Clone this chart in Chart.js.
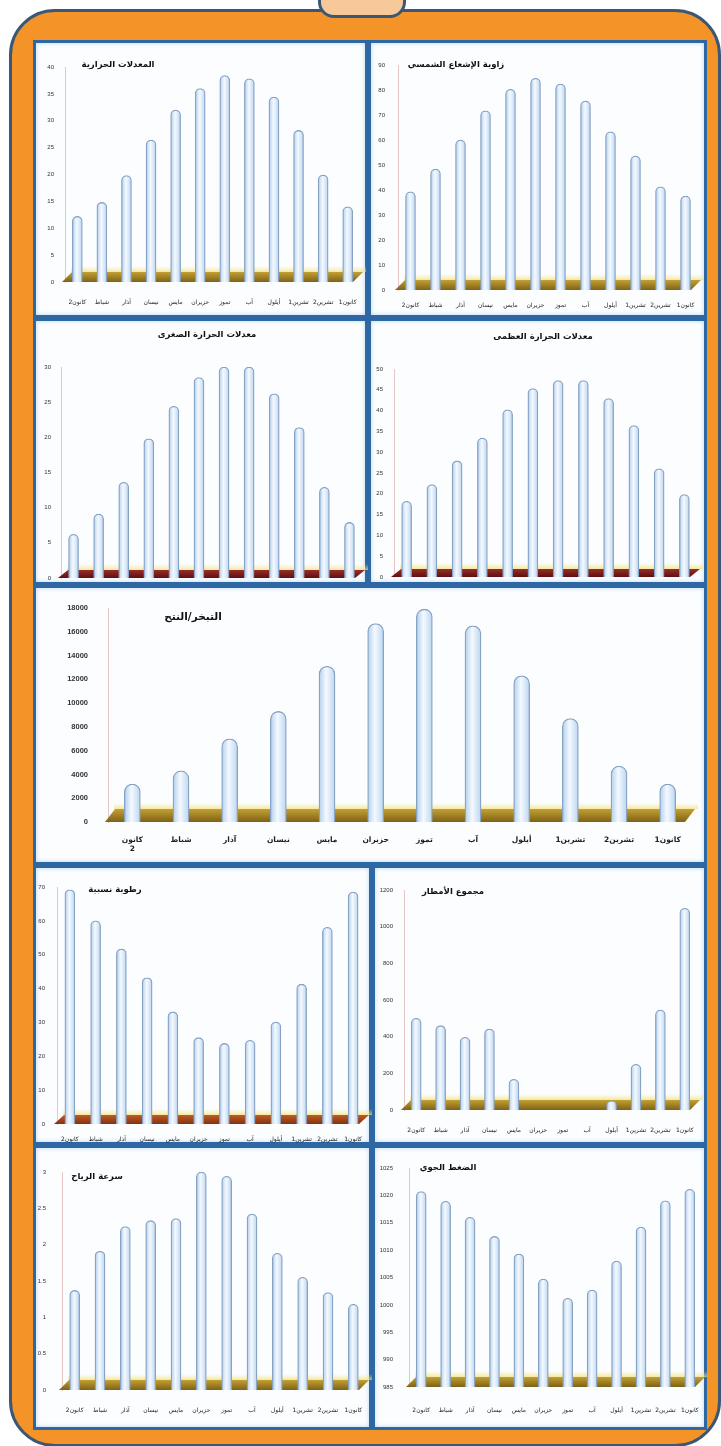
<!DOCTYPE html>
<html>
<head>
<meta charset="utf-8">
<script src="https://cdn.jsdelivr.net/npm/chart.js@4.4.1/dist/chart.umd.min.js"></script>
<style>
  body { margin:0; background:#ffffff; width:721px; height:1446px; position:relative; overflow:hidden; }
  #frame { position:absolute; left:9px; top:9px; width:706px; height:1432px; border-radius:46px;
           background:#f39328; border:3px solid #3a5776; }
  #tab { position:absolute; left:318px; top:-8px; width:82px; height:20px; border-radius:0 0 16px 16px;
         background:#f7c89a; border:3px solid #3a5776; }
  .panel { position:absolute; box-sizing:border-box; background:#fbfdff; border:3px solid #2d67a4;
           box-shadow: inset 0 0 4px #b9d3ec; }
  canvas { position:absolute; }
</style>
</head>
<body>
<div id="frame"></div>
<div id="tab"></div>
<script>
// ---------- البيانات ----------
var months = ["كانون2","شباط","آذار","نيسان","مايس","حزيران","تموز","آب","أيلول","تشرين1","تشرين2","كانون1"];
var monthsBig = [["كانون","2"],"شباط","آذار","نيسان","مايس","حزيران","تموز","آب","أيلول","تشرين1","تشرين2","كانون1"];

var tempAvg    = [12.2, 14.8, 19.8, 26.4, 32, 36, 38.4, 37.8, 34.4, 28.2, 19.9, 14];
var solarAngle = [39.3, 48.4, 60, 71.7, 80.3, 84.7, 82.4, 75.6, 63.3, 53.6, 41.3, 37.6];
var tempMin    = [6.2, 9.1, 13.6, 19.8, 24.4, 28.5, 30, 30, 26.2, 21.4, 12.9, 7.9];
var tempMax    = [18.2, 22.2, 27.9, 33.4, 40.2, 45.3, 47.2, 47.2, 42.9, 36.4, 26, 19.8];
var evap       = [3200, 4300, 7000, 9300, 13100, 16700, 17900, 16500, 12300, 8700, 4700, 3200];
var humidity   = [69.2, 60, 51.7, 43.2, 33.1, 25.5, 23.8, 24.7, 30.1, 41.3, 58.1, 68.5];
var rain       = [500, 460, 396, 442, 167, 0, 0, 0, 50, 249, 545, 1100];
var wind       = [1.37, 1.91, 2.25, 2.33, 2.36, 3.0, 2.94, 2.42, 1.88, 1.55, 1.34, 1.18];
var pressure   = [1020.7, 1018.9, 1016, 1012.5, 1009.3, 1004.7, 1001.2, 1002.7, 1008, 1014.2, 1019, 1021.1];

// [min, max, step] للمحاور
var avgTicks = [0, 40, 5];
var solarTicks = [0, 90, 10];
var minTicks = [0, 30, 5];
var maxTicks = [0, 50, 5];
var evapTicks = [0, 18000, 2000];
var humTicks = [0, 70, 10];
var rainTicks = [0, 1200, 200];
var windTicks = [0, 3, 0.5];
var presTicks = [985, 1025, 5];

// الوان الارضية
var gold = ["#c3a034", "#7f6216"];
var maroon = ["#9a2c28", "#5e1010"];
var rust = ["#c05a26", "#83320f"];

// ---------- plugins ----------
var floorPlugin = {
  id: 'floor',
  beforeDatasetsDraw: function(chart, args, o) {
    var ctx = chart.ctx, a = chart.chartArea, d = o.depth || 10, y = a.bottom;
    ctx.save();
    // الهالة الصفراء فوق الارضية
    var h = ctx.createLinearGradient(0, y - d - 6, 0, y - d);
    h.addColorStop(0, 'rgba(245,232,140,0)');
    h.addColorStop(1, 'rgba(240,222,110,0.7)');
    ctx.fillStyle = h;
    ctx.fillRect(a.left + 6, y - d - 6, a.right - a.left, 6);
    var g = ctx.createLinearGradient(0, y - d, 0, y);
    g.addColorStop(0, o.colors[0]);
    g.addColorStop(1, o.colors[1]);
    ctx.beginPath();
    ctx.moveTo(a.left - 3, y);
    ctx.lineTo(a.right - 7, y);
    ctx.lineTo(a.right + 3, y - d);
    ctx.lineTo(a.left + 7, y - d);
    ctx.closePath();
    ctx.fillStyle = g;
    ctx.fill();
    ctx.restore();
  }
};

var titlePlugin = {
  id: 'panelTitle',
  afterDraw: function(chart, args, o) {
    if (!o.text) return;
    var ctx = chart.ctx;
    ctx.save();
    ctx.font = 'bold ' + o.size + 'px "DejaVu Sans"';
    ctx.fillStyle = '#111';
    ctx.textAlign = 'center';
    ctx.textBaseline = 'middle';
    ctx.fillText(o.text, o.x, o.y);
    ctx.restore();
  }
};

function barFill(c) {
  var ch = c.chart, xs = ch.scales.x;
  if (!xs || !ch.chartArea) return '#dcebf7';
  var bw = c.dataset.barThickness;
  var x = xs.getPixelForValue(c.dataIndex);
  var g = ch.ctx.createLinearGradient(x - bw / 2, 0, x + bw / 2, 0);
  g.addColorStop(0, '#b3cfec');
  g.addColorStop(0.45, '#f4f9ff');
  g.addColorStop(1, '#bcd6f0');
  return g;
}

// p = [x, y, w, h] اللوحة ، a = [left, top, right, bottom] منطقة الرسم
function panel(p, a, labels, values, t, cfg) {
  var box = document.createElement('div');
  box.className = 'panel';
  box.style.left = p[0] + 'px'; box.style.top = p[1] + 'px';
  box.style.width = p[2] + 'px'; box.style.height = p[3] + 'px';
  document.body.appendChild(box);

  var cv = document.createElement('canvas');
  cv.width = p[2]; cv.height = p[3];
  cv.style.left = p[0] + 'px'; cv.style.top = p[1] + 'px';
  document.body.appendChild(cv);

  var bw = cfg.bw || 10;
  new Chart(cv, {
    type: 'bar',
    data: {
      labels: labels,
      datasets: [{
        data: values,
        barThickness: bw,
        backgroundColor: barFill,
        borderColor: '#86a2c4',
        borderWidth: 1.3,
        borderSkipped: 'bottom',
        borderRadius: { topLeft: bw / 2, topRight: bw / 2 }
      }]
    },
    options: {
      responsive: false,
      animation: false,
      layout: { padding: { left: 0, top: a[1], right: p[2] - a[2], bottom: 0 } },
      plugins: {
        legend: { display: false },
        tooltip: { enabled: false },
        floor: { colors: cfg.floor, depth: cfg.depth || 10 },
        panelTitle: { text: cfg.title, x: cfg.tx, y: cfg.ty, size: cfg.ts || 8.5 }
      },
      scales: {
        x: {
          grid: { display: false, drawTicks: false },
          border: { display: false },
          ticks: {
            display: cfg.showX !== false,
            autoSkip: false, maxRotation: 0, minRotation: 0,
            padding: cfg.xpad || 15,
            color: '#222',
            font: { family: 'DejaVu Sans', size: cfg.xfs || 6, weight: cfg.bold ? 'bold' : 'normal' }
          },
          afterFit: function(s) { s.height = p[3] - a[3]; s.paddingLeft = 0; s.paddingRight = 0; }
        },
        y: {
          min: t[0], max: t[1],
          grid: { display: false, drawTicks: false },
          border: { color: '#e6c6c6', dash: [2, 2] },
          ticks: {
            stepSize: t[2],
            padding: cfg.ypad || 10,
            color: '#333',
            font: { family: 'Liberation Sans', size: cfg.yfs || 6, weight: cfg.bold ? 'bold' : 'normal' },
            callback: function(v) { return String(v); }
          },
          afterFit: function(s) { s.width = a[0]; s.paddingTop = 0; s.paddingBottom = 0; }
        }
      }
    },
    plugins: [floorPlugin, titlePlugin]
  });
}

panel([33, 40, 335, 278], [32, 27, 327, 242], months, tempAvg, avgTicks,
  { floor: gold, title: 'المعدلات الحرارية', tx: 85, ty: 25, xpad: 17, ypad: 11 });
panel([368, 40, 339, 278], [30, 25, 330, 250], months, solarAngle, solarTicks,
  { floor: gold, title: 'زاوية الإشعاع الشمسي', tx: 88, ty: 25, xpad: 12, ypad: 13 });
panel([33, 318, 335, 267], [28, 49, 329, 260], months, tempMin, minTicks,
  { floor: maroon, title: 'معدلات الحرارة الصغرى', tx: 174, ty: 17, showX: false, ypad: 10, depth: 8 });
panel([368, 318, 339, 267], [26, 51, 329, 259], months, tempMax, maxTicks,
  { floor: maroon, title: 'معدلات الحرارة العظمى', tx: 175, ty: 19, showX: false, ypad: 11, depth: 8 });
panel([33, 585, 674, 280], [75, 23, 659, 237], monthsBig, evap, evapTicks,
  { floor: gold, title: 'التبخر/النتح', tx: 160, ty: 32, ts: 10.5, bw: 16, xpad: 14, ypad: 20,
    xfs: 7.5, yfs: 7.5, bold: true, depth: 13 });
panel([33, 865, 339, 280], [24, 22, 333, 259], months, humidity, humTicks,
  { floor: rust, title: 'رطوبة نسبية', tx: 82, ty: 25, xpad: 12, ypad: 12, depth: 9 });
panel([372, 865, 335, 280], [32, 25, 325, 245], months, rain, rainTicks,
  { floor: gold, title: 'مجموع الأمطار', tx: 81, ty: 27, xpad: 17, ypad: 11 });
panel([33, 1145, 339, 285], [29, 27, 333, 245], months, wind, windTicks,
  { floor: gold, title: 'سرعة الرياح', tx: 64, ty: 32, xpad: 17, ypad: 16 });
panel([372, 1145, 335, 285], [37, 23, 330, 242], months, pressure, presTicks,
  { floor: gold, title: 'الضغط الجوي', tx: 76, ty: 23, xpad: 20, ypad: 16 });
</script>
</body>
</html>
